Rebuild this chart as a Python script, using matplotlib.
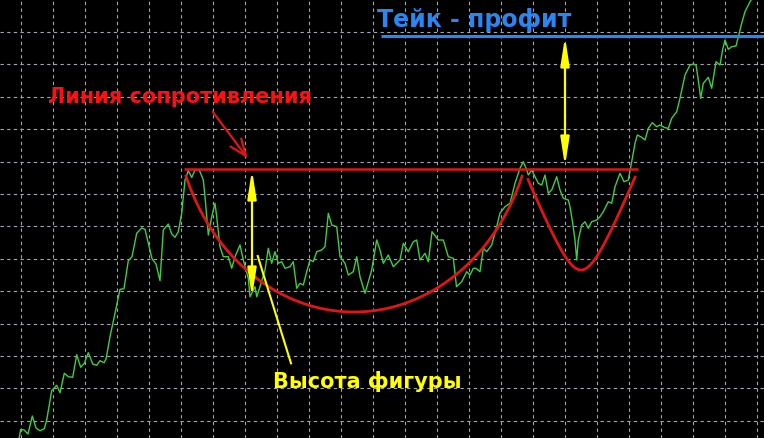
import numpy as np
import matplotlib
matplotlib.use("Agg")
import matplotlib.pyplot as plt

# ---- price series (time position, price) ----
time_x = [18.5, 19.3, 20.7, 24, 28, 32.3, 36, 40, 44.3, 46.7, 51.7, 56.7, 60, 64.3, 68.3, 72.7,
          76.7, 80.7, 84.3, 88.3, 92.7, 96.7, 100, 104, 106, 110, 115, 120, 124, 128.3, 132,
          136.7, 141.7, 145, 148.3, 152, 156, 160, 163.3, 168.3, 171.7, 175, 178.3, 181.7, 185,
          188.3, 191.7, 195, 199.3, 203.3, 205, 208.3, 211.7, 215, 216.7, 220, 223.3, 228.3,
          231.7, 235, 240, 243.3, 248.3, 250, 255, 256.7, 260, 265, 268.3, 271.7, 275, 278.3,
          281.7, 285, 290, 293.3, 296.7, 300, 303.3, 306.7, 310, 313.3, 316.7, 321.7, 325,
          328.3, 331.7, 336.7, 340, 345, 348.3, 353.3, 356.7, 360, 365, 371.7, 376.7, 380,
          383.3, 388.3, 393.3, 400, 403.3, 408.3, 413.3, 416.7, 420, 425, 428.3, 432, 438.3,
          443.3, 448.3, 453.3, 456.5, 461.7, 466.7, 470, 473.3, 476, 480, 483.3, 486.7, 491.7,
          496.7, 500, 505, 510, 515, 520, 523.3, 526.7, 528.3, 531.7, 535, 538.3, 541.7, 545,
          548.3, 551.7, 556.7, 560, 563.3, 568.3, 570, 572.7, 575, 576.7, 578.3, 581.7, 585,
          588.3, 591.7, 596.7, 600, 603.3, 608.3, 611.7, 615, 620, 624, 628.3, 631.7, 635,
          637.3, 641.7, 645, 648.3, 652.3, 656.7, 660, 665, 668.3, 671.7, 676.7, 680, 685,
          690, 693.3, 696, 698.3, 700.7, 703.3, 708.3, 711.7, 716, 720, 722.7, 725, 728.3,
          731.7, 736, 738.3, 741.7, 745, 750, 755]
price = [-3, 0.7, 8.7, 8, 4, 22, 10, 7.3, 9.3, 18, 47.3, 52.7, 45.3, 64.7, 61.3, 60.7,
         83.3, 70.7, 74.7, 85.3, 74, 72.7, 77.3, 75.3, 78.7, 101.3, 124.7, 148.7, 149.3, 177.3, 181.3,
         204.7, 210, 208.7, 194.7, 179.3, 174, 157.3, 208, 214, 204, 200.7, 206.3, 224.7, 258,
         267.3, 260.5, 268, 268, 258, 241.3, 203, 221.3, 234.7, 221.3, 191.3, 181.3, 181.3,
         169.7, 181.3, 193, 178, 159.7, 141.3, 151.3, 141.3, 151.3, 168, 189.7, 174.7, 186.3, 174.7,
         176.3, 169.7, 171.3, 176.3, 149.7, 154.7, 153, 166.3, 178, 176.3, 186.3, 188, 191.3,
         224.7, 213, 211.3, 181.3, 174.7, 163, 166.3, 181.3, 161.3, 144.7, 168, 198, 188,
         174.7, 183, 171.3, 178, 194.7, 186.3, 196.3, 198, 178, 184.7, 176.3, 206.3, 198,
         198, 181.3, 179.7, 151.3, 156.3, 166.3, 163, 169.7, 169.7, 166.3, 189.7, 186.3, 193,
         211.3, 225, 231.3, 234.7, 254.7, 269.7, 276.3, 268, 263, 268, 261.3, 254.7, 253, 263,
         244.7, 248, 261.3, 248, 239.7, 238, 231.3, 214.7, 198, 178, 198, 213, 216.3,
         209.7, 216.3, 218, 221.3, 226.3, 236.3, 234.7, 251.3, 264.7, 256.3, 258, 276.3, 294.7,
         303, 300.7, 298, 309.7, 315.3, 311.3, 313, 310.3, 309.7, 319.7, 326.3, 339.7, 363,
         373, 374, 373, 358, 339.7, 354.7, 360.7, 349.7, 376.3, 373, 388.7, 398, 388.7,
         391.3, 392, 401.3, 414.7, 426.3, 436.3, 444]

# ---- pattern levels ----
resistance_level = 269
resistance_span = (184, 638)
take_profit_level = 402
take_profit_span = (381, 764)

# cup (elliptic arc) and handle parameters
cup_cx, cup_cy, cup_a, cup_b = 354, 338, 180, 212
cup_span = (186, 522)
handle_cx, handle_bottom, handle_r, handle_s = 581, 168, 20, 2.47
handle_span = (528, 635)

height_arrow_x = 252
height_arrow_range = (268, 141)
tp_arrow_x = 565
tp_arrow_range = (401, 272)

label_res = "Линия сопротивления"
label_tp = "Тейк - профит"
label_height = "Высота фигуры"

GREEN = "#3cd03c"
RED = "#e01515"
YELLOW = "#ffff00"
BLUE = "#2a86f0"

fig = plt.figure(figsize=(7.64, 4.38), dpi=100)
fig.patch.set_facecolor("black")
ax = fig.add_axes([0, 0, 1, 1])
ax.set_facecolor("black")
ax.set_xlim(0, 764)
ax.set_ylim(0, 438)
for s in ax.spines.values():
    s.set_visible(False)
ax.tick_params(length=0, labelbottom=False, labelleft=False)

# grid
ax.set_xticks(np.arange(20.7, 764, 32))
ax.set_yticks(np.arange(406, 0, -32.4))
ax.grid(True, color="#a4a4b4", linestyle=(0, (3, 3)), linewidth=0.8)
ax.set_axisbelow(True)

# price line
ax.plot(time_x, price, color=GREEN, linewidth=1.0, zorder=3)

# resistance & take profit
ax.plot(resistance_span, [resistance_level] * 2, color=RED, linewidth=1.8, zorder=4,
        solid_capstyle="butt")
ax.plot(take_profit_span, [take_profit_level] * 2, color=BLUE, linewidth=2.2, zorder=4,
        solid_capstyle="butt")

# cup
cx = np.linspace(cup_span[0], cup_span[1], 300)
cy = cup_cy - cup_b * np.sqrt(np.clip(1 - ((cx - cup_cx) / cup_a) ** 2, 0, None))
ax.plot(cx, cy, color=RED, linewidth=2.0, zorder=4)

# handle
hx = np.linspace(handle_span[0], handle_span[1], 200)
hy = handle_bottom + handle_s * (np.sqrt(handle_r ** 2 + (hx - handle_cx) ** 2) - handle_r)
ax.plot(hx, hy, color=RED, linewidth=2.0, zorder=4)

# yellow double arrows
arrow_style = "<|-|>,head_length=1.4,head_width=0.22"
for xa, (y0, y1) in [(height_arrow_x, height_arrow_range), (tp_arrow_x, tp_arrow_range)]:
    ax.annotate("", xy=(xa, y0), xytext=(xa, y1),
                arrowprops=dict(arrowstyle=arrow_style, color=YELLOW, lw=1.6,
                                mutation_scale=12, shrinkA=0, shrinkB=0), zorder=5)

# yellow pointer line
ax.plot([257.7, 291], [182, 74.7], color=YELLOW, linewidth=1.5, zorder=5)

# red pointer arrow
ax.annotate("", xy=(247.7, 279.7), xytext=(212.7, 326.3),
            arrowprops=dict(arrowstyle="->,head_length=1.0,head_width=0.4", color=RED,
                            lw=1.6, mutation_scale=12, shrinkA=0, shrinkB=0), zorder=5)

# texts
FONT = ["DejaVu Sans"]
ax.text(48, 335.3, label_res, color="#ff1010", fontsize=15, fontweight="bold",
        family=FONT, va="baseline", ha="left", zorder=6)
ax.text(377, 411, label_tp, color=BLUE, fontsize=17, fontweight="bold",
        family=FONT, va="baseline", ha="left", zorder=6)
ax.text(273, 49.7, label_height, color=YELLOW, fontsize=15, fontweight="bold",
        family=FONT, va="baseline", ha="left", zorder=6)

fig.savefig("out.png", dpi=100, facecolor="black")
